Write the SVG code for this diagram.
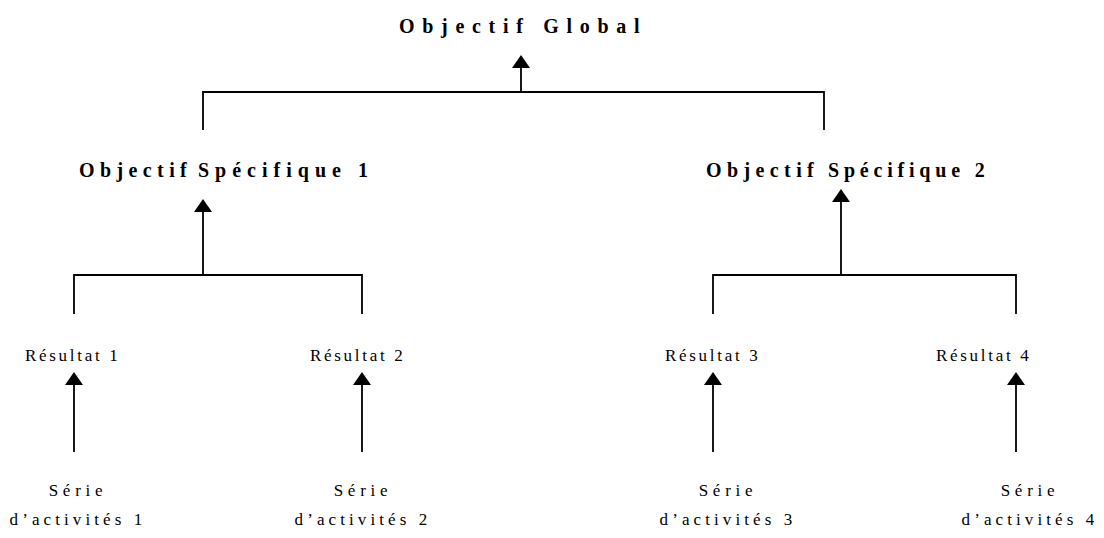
<svg xmlns="http://www.w3.org/2000/svg" width="1104" height="538" viewBox="0 0 1104 538">
<defs>
<style>
.b{font-family:"Liberation Serif","Times New Roman",serif;font-weight:bold;font-size:20px;fill:#000}
.r{font-family:"Liberation Serif","Times New Roman",serif;font-size:17px;fill:#000}
.ln{stroke:#000;stroke-width:1.8;fill:none}
</style>
</defs>
<rect width="1104" height="538" fill="#fff"/>
<g id="connectors">
<path class="ln" d="M203 130V92H824V130M521 92V66"/>
<path class="ln" d="M74 314V275H362V314M203 275V210"/>
<path class="ln" d="M713 314V275H1016V314M841 275V201"/>
<path class="ln" d="M74 452V384M362 452V384M713 452V384M1016 452V384"/>
<g fill="#000">
<polygon points="521,55 512,68 530,68"/>
<polygon points="203,199 194,212 212,212"/>
<polygon points="841,189 832,202 850,202"/>
<polygon points="74,372 65,385 83,385"/>
<polygon points="362,372 353,385 371,385"/>
<polygon points="713,372 704,385 722,385"/>
<polygon points="1016,372 1007,385 1025,385"/>
</g>
</g>
<g id="og"><text class="b" x="399" y="33" letter-spacing="7.7">Objectif Global</text></g>
<g id="os1"><text class="b" y="177"><tspan x="79" letter-spacing="5.4">Objectif</tspan><tspan x="198" letter-spacing="6">Spécifique 1</tspan></text></g>
<g id="os2"><text class="b" y="177"><tspan x="706" letter-spacing="5.4">Objectif</tspan><tspan x="828" letter-spacing="4.8">Spécifique 2</tspan></text></g>
<g id="r1"><text class="r" x="25" y="361" letter-spacing="2.7">Résultat 1</text></g>
<g id="r2"><text class="r" x="310" y="361" letter-spacing="2.7">Résultat 2</text></g>
<g id="r3"><text class="r" x="665" y="361" letter-spacing="2.7">Résultat 3</text></g>
<g id="r4"><text class="r" x="936" y="361" letter-spacing="2.7">Résultat 4</text></g>
<g id="s1"><text class="r" y="496"><tspan x="78" text-anchor="middle" letter-spacing="4.75">Série</tspan><tspan x="78" dy="29" text-anchor="middle" letter-spacing="4.1">d’activités 1</tspan></text></g>
<g id="s2"><text class="r" y="496"><tspan x="363" text-anchor="middle" letter-spacing="4.75">Série</tspan><tspan x="363" dy="29" text-anchor="middle" letter-spacing="4.1">d’activités 2</tspan></text></g>
<g id="s3"><text class="r" y="496"><tspan x="728" text-anchor="middle" letter-spacing="4.75">Série</tspan><tspan x="728" dy="29" text-anchor="middle" letter-spacing="4.1">d’activités 3</tspan></text></g>
<g id="s4"><text class="r" y="496"><tspan x="1030" text-anchor="middle" letter-spacing="4.75">Série</tspan><tspan x="1030" dy="29" text-anchor="middle" letter-spacing="4.1">d’activités 4</tspan></text></g>
</svg>
